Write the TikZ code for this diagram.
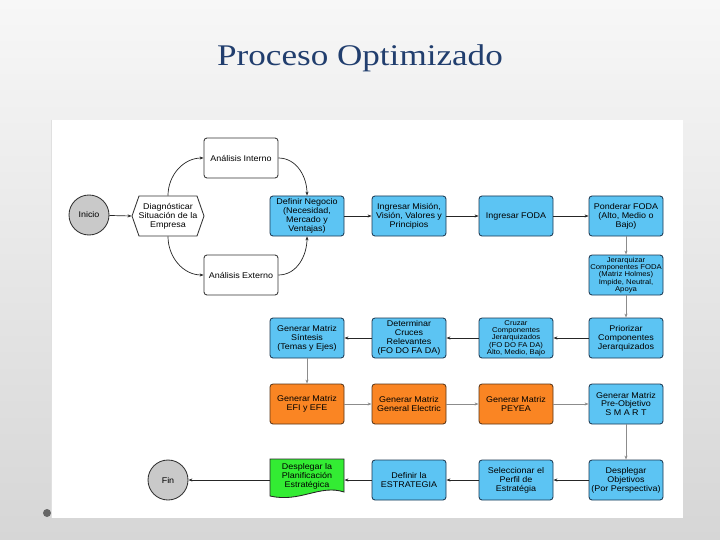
\documentclass[tikz,border=0pt]{standalone}
\usepackage{fontspec}
\setmainfont{Liberation Sans}
\newfontfamily\titlefont[FakeStretch=1.17]{Liberation Serif}
\newfontfamily\boxfont[FakeStretch=1.08]{Liberation Sans}
\newfontfamily\smallfont[FakeStretch=1.1]{Liberation Sans}
\usetikzlibrary{arrows.meta}
\definecolor{bgtop}{HTML}{F7F7F7}
\definecolor{bgbot}{HTML}{D6D6D6}
\definecolor{titleblue}{HTML}{213E6E}
\definecolor{boxblue}{HTML}{5CC4F3}
\definecolor{boxedge}{HTML}{1B3852}
\definecolor{boxorange}{HTML}{FA8523}
\definecolor{oredge}{HTML}{5A3516}
\definecolor{boxgreen}{HTML}{33EC33}
\definecolor{termgray}{HTML}{C9C9C9}
\begin{document}
\begin{tikzpicture}[x=1pt,y=1pt,
  proc/.style={rectangle, rounded corners=3pt, minimum width=74pt, minimum height=40pt,
    inner sep=1pt, align=center, font=\boxfont\fontsize{8.3}{8.9}\selectfont, line width=0.85pt},
  bluebox/.style={proc, fill=boxblue, draw=boxedge},
  orbox/.style={proc, fill=boxorange, draw=oredge},
  whbox/.style={proc, fill=white, draw=black!80},
  smalltext/.style={font=\smallfont\fontsize{7}{7.3}\selectfont},
  term/.style={circle, minimum size=40pt, inner sep=0pt, fill=termgray, draw=black!80,
    line width=0.85pt, font=\boxfont\fontsize{8.3}{9}\selectfont},
  arr/.style={-{Stealth[length=4pt,width=3pt]}, line width=0.7pt, draw=black!85},
  garr/.style={arr, draw=black!45}]
\useasboundingbox (0,0) rectangle (720,-540);
% slide background
\shade[top color=bgtop, bottom color=bgbot] (0,0) rectangle (720,-540);
\fill[white] (51,-120) rectangle (683,-518);
\draw[black!12, line width=0.6pt] (51,-120) -- (51,-518);
\fill[black!60] (47,-513) circle (4);
% title
\node[font=\titlefont\fontsize{30}{34}\selectfont, text=titleblue] (title) at (360,-58) {Proceso Optimizado};

% left part
\node[term] (inicio) at (89,-215) {Inicio};
\path[draw=black!80, fill=white, line width=0.85pt]
  (132,-216) -- (139,-196) -- (197,-196) -- (204,-216) -- (197,-236) -- (139,-236) -- cycle;
\node[proc, draw=none, minimum width=72pt] (diag) at (168,-216) {Diagnósticar\\Situación de la\\Empresa};
\node[whbox] (ainterno) at (241,-158) {Análisis Interno};
\node[whbox] (aexterno) at (241,-275) {Análisis Externo};

% row 1
\node[bluebox] (defneg) at (307,-216) {Definir Negocio\\(Necesidad,\\Mercado y\\Ventajas)};
\node[bluebox] (mision) at (409,-216) {Ingresar Misión,\\Visión, Valores y\\Principios};
\node[bluebox] (ifoda) at (516,-216) {Ingresar FODA};
\node[bluebox] (ponderar) at (626,-216) {Ponderar FODA\\(Alto, Medio o\\Bajo)};
\node[bluebox, smalltext] (jerarq) at (626,-275) {Jerarquizar\\Componentes FODA\\(Matriz Holmes)\\Impide, Neutral,\\Apoya};

% row 2
\node[bluebox] (priorizar) at (626,-338) {Priorizar\\Componentes\\Jerarquizados};
\node[bluebox, smalltext] (cruzar) at (516,-338) {Cruzar\\Componentes\\Jerarquizados\\(FO DO FA DA)\\Alto, Medio, Bajo};
\node[bluebox] (determinar) at (409,-338) {Determinar\\Cruces\\Relevantes\\(FO DO FA DA)};
\node[bluebox] (sintesis) at (307,-338) {Generar Matriz\\Síntesis\\(Temas y Ejes)};

% row 3
\node[orbox] (efi) at (307,-404) {Generar Matriz\\EFI y EFE};
\node[orbox] (ge) at (409,-404) {Generar Matriz\\General Electric};
\node[orbox] (peyea) at (516,-404) {Generar Matriz\\PEYEA};
\node[bluebox] (smart) at (626,-404) {Generar Matriz\\Pre-Objetivo\\S M A R T};

% row 4
\node[bluebox] (despobj) at (626,-480) {Desplegar\\Objetivos\\(Por Perspectiva)};
\node[bluebox] (selecc) at (516,-480) {Seleccionar el\\Perfil de\\Estratégia};
\node[bluebox] (defest) at (409,-480) {Definir la\\ESTRATEGIA};
\path[draw=black!85, fill=boxgreen, line width=0.85pt]
  (270,-459) -- (344,-459) -- (344,-492)
  .. controls (320,-484) and (300,-503) .. (270,-496) -- cycle;
\node[proc, draw=none, minimum height=36pt] (despplan) at (307,-476) {Desplegar la\\Planificación\\Estratégica};
\node[term] (fin) at (168,-480) {Fin};

% connectors
\draw[arr] (inicio) -- (diag.west);
\draw[arr] (diag.north) to[out=90, in=180] (ainterno.west);
\draw[arr] (ainterno.east) to[out=0, in=90] (defneg.north);
\draw[arr] (diag.south) to[out=-90, in=180] (aexterno.west);
\draw[arr] (aexterno.east) to[out=0, in=-90] (defneg.south);
\draw[arr] (defneg) -- (mision);
\draw[arr] (mision) -- (ifoda);
\draw[arr] (ifoda) -- (ponderar);
\draw[garr] (ponderar) -- (jerarq);
\draw[garr] (jerarq) -- (priorizar);
\draw[arr] (priorizar) -- (cruzar);
\draw[arr] (cruzar) -- (determinar);
\draw[arr] (determinar) -- (sintesis);
\draw[garr] (sintesis) -- (efi);
\draw[garr] (efi) -- (ge);
\draw[garr] (ge) -- (peyea);
\draw[garr] (peyea) -- (smart);
\draw[garr] (smart) -- (despobj);
\draw[arr] (despobj) -- (selecc);
\draw[arr] (selecc) -- (defest);
\draw[arr] (defest.west) -- (defest.west -| despplan.east);
\draw[arr] (despplan.west |- fin) -- (fin.east);
\end{tikzpicture}
\end{document}
